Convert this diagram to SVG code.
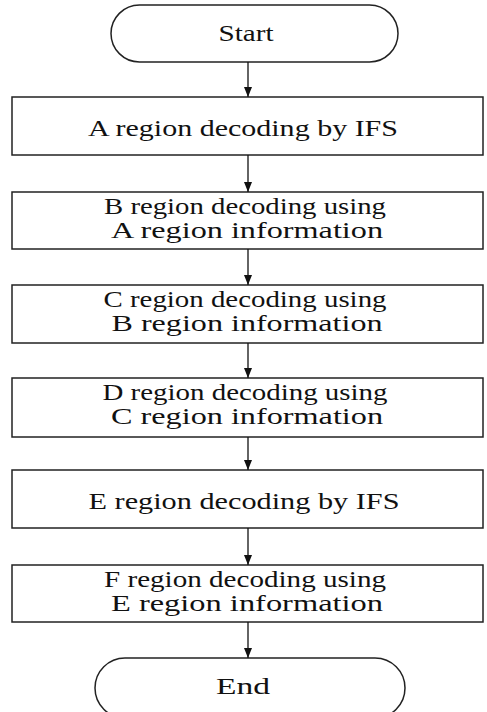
<svg xmlns="http://www.w3.org/2000/svg" width="487" height="712" viewBox="0 0 487 712">
<defs>
<marker id="arr" viewBox="0 0 10 8" refX="10" refY="4" markerWidth="10" markerHeight="8" markerUnits="userSpaceOnUse" orient="auto">
<path d="M0,0 L10,4 L0,8 Z" fill="#111"/>
</marker>
</defs>
<style>
.box{fill:#fff;stroke:#222;stroke-width:1.5}
.t{font-family:"Liberation Serif","Times New Roman",serif;font-size:23px;fill:#111;text-anchor:middle}
.c{stroke:#111;stroke-width:1.3;fill:none}
</style>
<rect width="487" height="712" fill="#fff"/>
<g id="start">
<rect class="box" x="111" y="5" width="287" height="57" rx="28.5" ry="28.5"/>
<text class="t" x="246" y="41" textLength="55" lengthAdjust="spacingAndGlyphs">Start</text>
</g>
<g id="nodeA">
<rect class="box" x="12" y="97" width="471" height="58"/>
<text class="t" x="243" y="136" textLength="310" lengthAdjust="spacingAndGlyphs">A region decoding by IFS</text>
</g>
<g id="nodeB">
<rect class="box" x="12" y="192" width="471" height="57"/>
<text class="t" x="245" y="214" textLength="282" lengthAdjust="spacingAndGlyphs">B region decoding using</text>
<text class="t" x="247" y="238" textLength="272" lengthAdjust="spacingAndGlyphs">A region information</text>
</g>
<g id="nodeC">
<rect class="box" x="12" y="285" width="471" height="58"/>
<text class="t" x="245" y="307" textLength="283" lengthAdjust="spacingAndGlyphs">C region decoding using</text>
<text class="t" x="247" y="331" textLength="271" lengthAdjust="spacingAndGlyphs">B region information</text>
</g>
<g id="nodeD">
<rect class="box" x="12" y="378" width="471" height="59"/>
<text class="t" x="245" y="400" textLength="285" lengthAdjust="spacingAndGlyphs">D region decoding using</text>
<text class="t" x="247" y="424" textLength="272" lengthAdjust="spacingAndGlyphs">C region information</text>
</g>
<g id="nodeE">
<rect class="box" x="12" y="470" width="471" height="58"/>
<text class="t" x="244" y="509" textLength="311" lengthAdjust="spacingAndGlyphs">E region decoding by IFS</text>
</g>
<g id="nodeF">
<rect class="box" x="12" y="565" width="471" height="57"/>
<text class="t" x="245" y="587" textLength="282" lengthAdjust="spacingAndGlyphs">F region decoding using</text>
<text class="t" x="247" y="611" textLength="272" lengthAdjust="spacingAndGlyphs">E region information</text>
</g>
<g id="end">
<rect class="box" x="95" y="658" width="310" height="60" rx="30" ry="30"/>
<text class="t" x="243" y="694" textLength="54" lengthAdjust="spacingAndGlyphs">End</text>
</g>
<g id="connectors">
<line class="c" x1="248" y1="62" x2="248" y2="97" marker-end="url(#arr)"/>
<line class="c" x1="248" y1="155" x2="248" y2="192" marker-end="url(#arr)"/>
<line class="c" x1="248" y1="249" x2="248" y2="285" marker-end="url(#arr)"/>
<line class="c" x1="248" y1="343" x2="248" y2="378" marker-end="url(#arr)"/>
<line class="c" x1="248" y1="437" x2="248" y2="470" marker-end="url(#arr)"/>
<line class="c" x1="248" y1="528" x2="248" y2="565" marker-end="url(#arr)"/>
<line class="c" x1="248" y1="622" x2="248" y2="658" marker-end="url(#arr)"/>
</g>
</svg>
